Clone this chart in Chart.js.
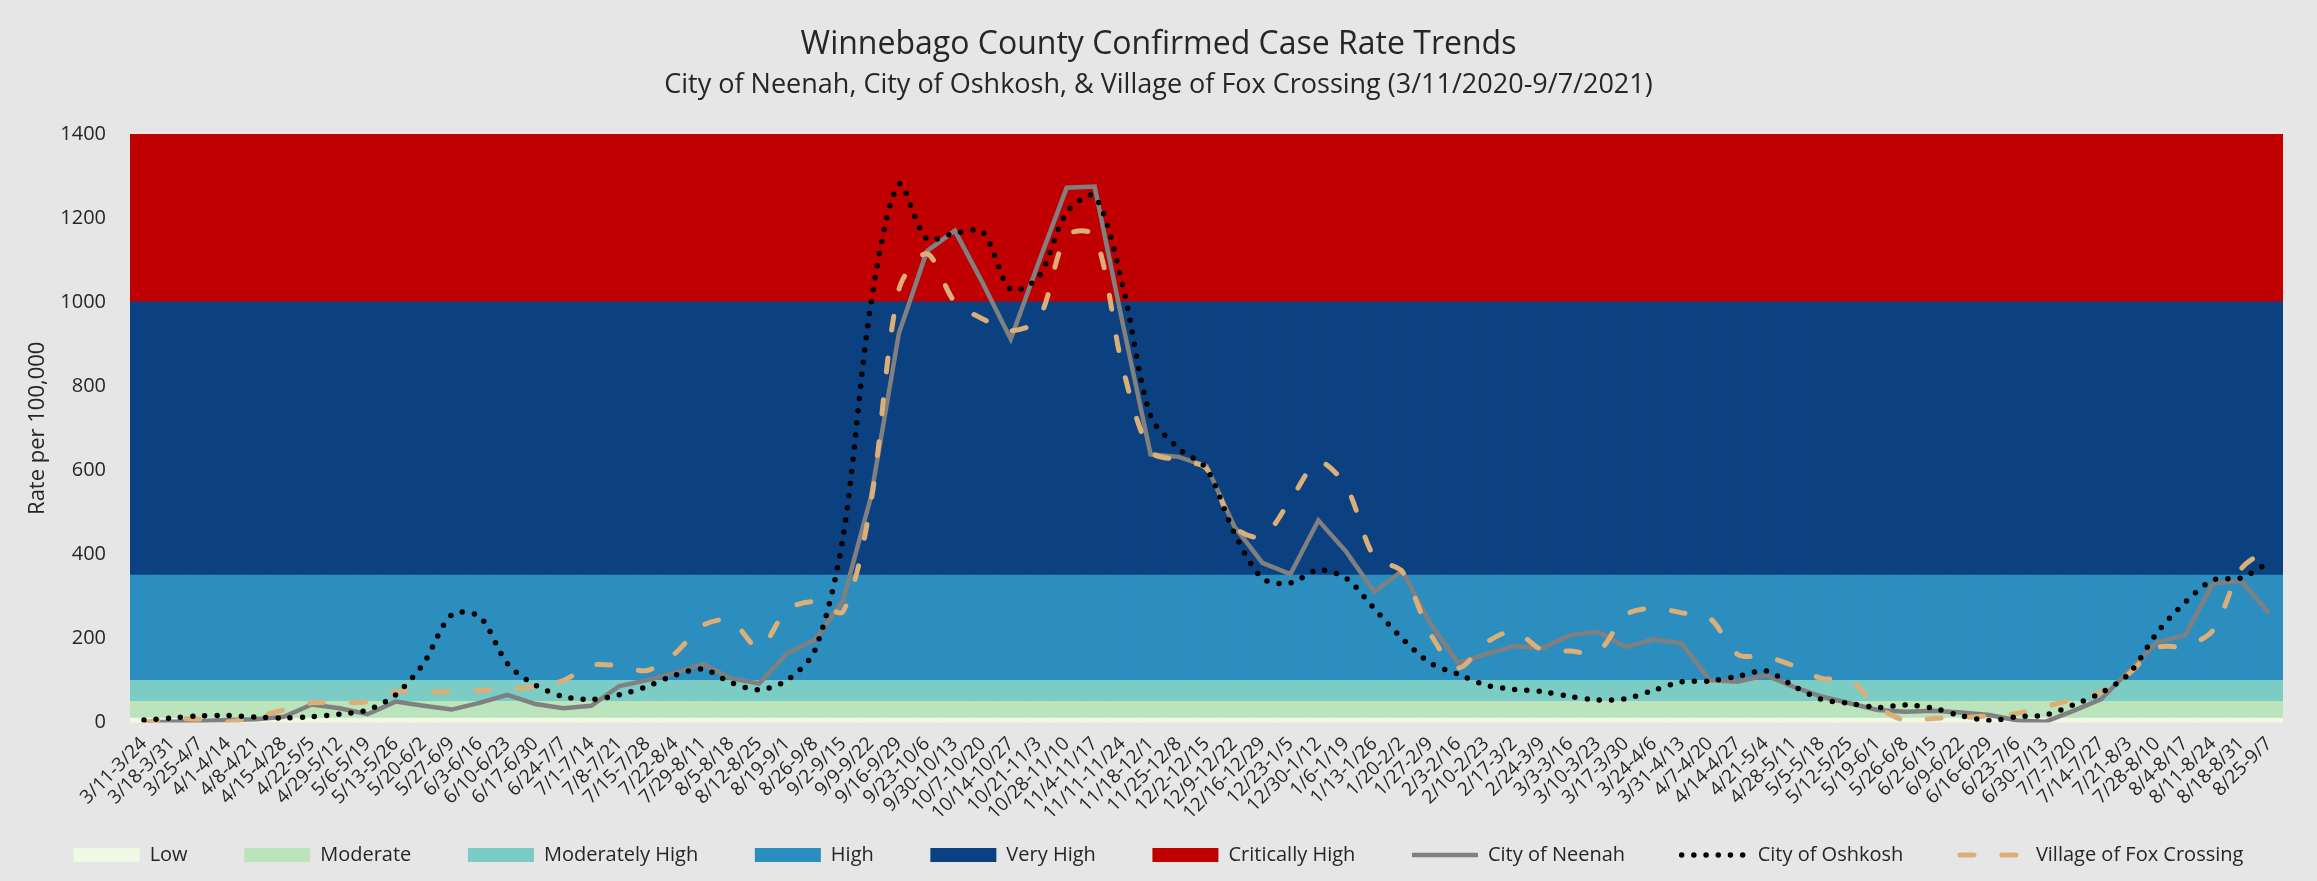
<!DOCTYPE html>
<html>
<head>
<meta charset="utf-8">
<script src="https://cdn.jsdelivr.net/npm/chart.js@4.4.0/dist/chart.umd.min.js"></script>
<style>
  html, body { margin: 0; padding: 0; background: #e7e6e6; }
  canvas { display: block; }
</style>
</head>
<body>
<canvas id="caseChart" width="2317" height="881"></canvas>
<script>
// weekly 14-day windows, 3/11/2020 - 9/7/2021
const weekLabels = [
  '3/11-3/24', '3/18-3/31', '3/25-4/7', '4/1-4/14', '4/8-4/21', '4/15-4/28', '4/22-5/5', '4/29-5/12',
  '5/6-5/19', '5/13-5/26', '5/20-6/2', '5/27-6/9', '6/3-6/16', '6/10-6/23', '6/17-6/30', '6/24-7/7',
  '7/1-7/14', '7/8-7/21', '7/15-7/28', '7/22-8/4', '7/29-8/11', '8/5-8/18', '8/12-8/25', '8/19-9/1',
  '8/26-9/8', '9/2-9/15', '9/9-9/22', '9/16-9/29', '9/23-10/6', '9/30-10/13', '10/7-10/20', '10/14-10/27',
  '10/21-11/3', '10/28-11/10', '11/4-11/17', '11/11-11/24', '11/18-12/1', '11/25-12/8', '12/2-12/15', '12/9-12/22',
  '12/16-12/29', '12/23-1/5', '12/30-1/12', '1/6-1/19', '1/13-1/26', '1/20-2/2', '1/27-2/9', '2/3-2/16',
  '2/10-2/23', '2/17-3/2', '2/24-3/9', '3/3-3/16', '3/10-3/23', '3/17-3/30', '3/24-4/6', '3/31-4/13',
  '4/7-4/20', '4/14-4/27', '4/21-5/4', '4/28-5/11', '5/5-5/18', '5/12-5/25', '5/19-6/1', '5/26-6/8',
  '6/2-6/15', '6/9-6/22', '6/16-6/29', '6/23-7/6', '6/30-7/13', '7/7-7/20', '7/14-7/27', '7/21-8/3',
  '7/28-8/10', '8/4-8/17', '8/11-8/24', '8/18-8/31', '8/25-9/7'
];

const neenahRates = [
  0, 2, 4, 6, 8, 14, 43, 34, 20, 50,
  40, 31, 47, 66, 44, 34, 40, 87, 101, 119,
  139, 105, 93, 165, 197, 290, 537, 926, 1121, 1170,
  1045, 912, 1095, 1272, 1275, 950, 638, 632, 610, 466,
  380, 353, 481, 406, 311, 361, 236, 142, 163, 182,
  177, 208, 216, 180, 198, 188, 101, 97, 113, 85,
  62, 46, 30, 26, 28, 24, 18, 5, 2, 28,
  56, 124, 191, 208, 331, 337, 260
];

const oshkoshRates = [
  6, 11, 16, 17, 13, 11, 14, 20, 30, 66,
  141, 256, 252, 140, 89, 62, 55, 66, 86, 113,
  127, 95, 78, 101, 173, 440, 996, 1280, 1150, 1164,
  1166, 1030, 1060, 1213, 1252, 1040, 730, 652, 604, 450,
  343, 332, 363, 343, 271, 200, 142, 115, 89, 79,
  74, 62, 54, 57, 77, 97, 99, 110, 123, 87,
  55, 46, 36, 42, 34, 16, 5, 14, 18, 42,
  71, 117, 214, 286, 339, 344, 381
];

const foxCrossingRates = [
  0, 9, 8, 2, 14, 30, 47, 47, 50, 73,
  73, 73, 76, 80, 86, 100, 136, 135, 124, 165,
  232, 242, 177, 268, 288, 264, 525, 1030, 1115, 1000,
  960, 932, 960, 1158, 1158, 845, 645, 624, 604, 466,
  442, 529, 620, 561, 394, 359, 212, 130, 190, 217,
  173, 170, 168, 256, 272, 261, 248, 162, 157, 135,
  105, 101, 38, 5, 10, 12, 16, 22, 38, 55,
  73, 117, 178, 182, 220, 365, 415
];

// risk level bands (rate per 100,000)
const bandNames = ['Low', 'Moderate', 'Moderately High', 'High', 'Very High', 'Critically High'];
const bandEdges = [0, 10, 50, 100, 350, 1000, 1400];
const bandColors = ['#f0f8e6', '#bbe4bd', '#7bccc5', '#2c8dbf', '#0b4081', '#c00000'];

const FONT = 'Open Sans';
const TEXT = '#262626';

const paintBackground = {
  id: 'paintBackground',
  beforeDraw(chart) {
    const c = chart.ctx;
    c.save();
    c.fillStyle = '#e7e6e6';
    c.fillRect(0, 0, chart.width, chart.height);
    c.restore();
  }
};

let bandSets = bandNames.map(function (name, k) {
  return {
    type: 'bar',
    label: name,
    data: weekLabels.map(() => [bandEdges[k], bandEdges[k + 1]]),
    backgroundColor: bandColors[k],
    borderWidth: 0,
    barPercentage: 1,
    categoryPercentage: 1,
    grouped: false,
    inflateAmount: 0.6,
    order: 10
  };
});

let lineSets = [
  {
    type: 'line',
    label: 'City of Neenah',
    data: neenahRates,
    borderColor: '#808080',
    backgroundColor: '#808080',
    borderWidth: 4.5,
    pointRadius: 0,
    tension: 0,
    fill: false,
    order: 2
  },
  {
    type: 'line',
    label: 'City of Oshkosh',
    data: oshkoshRates,
    borderColor: '#000000',
    backgroundColor: '#000000',
    borderWidth: 5.5,
    borderDash: [0, 12.2],
    borderCapStyle: 'round',
    pointRadius: 0,
    tension: 0.3,
    fill: false,
    order: 0
  },
  {
    type: 'line',
    label: 'Village of Fox Crossing',
    data: foxCrossingRates,
    borderColor: '#dcae78',
    backgroundColor: '#dcae78',
    borderWidth: 5,
    borderDash: [14, 28],
    borderCapStyle: 'round',
    pointRadius: 0,
    tension: 0.3,
    fill: false,
    order: 1
  }
];

function legendItems(chart) {
  return chart.data.datasets.map(function (ds, i) {
    let isLine = ds.type === 'line';
    return {
      text: ds.label,
      datasetIndex: i,
      fillStyle: ds.backgroundColor,
      strokeStyle: isLine ? ds.borderColor : ds.backgroundColor,
      lineWidth: isLine ? ds.borderWidth : 0,
      lineDash: ds.borderDash || [],
      lineCap: ds.borderCapStyle || 'butt',
      pointStyle: isLine ? 'line' : 'rect',
      fontColor: TEXT,
      hidden: false
    };
  });
}

Chart.defaults.font.family = FONT;

new Chart(document.getElementById('caseChart'), {
  type: 'bar',
  data: {
    labels: weekLabels,
    datasets: bandSets.concat(lineSets)
  },
  options: {
    responsive: false,
    devicePixelRatio: 1,
    animation: false,
    events: [],
    layout: { padding: { top: 0, left: 0, right: 0, bottom: 6 } },
    scales: {
      x: {
        offset: true,
        grid: { display: false, drawTicks: false },
        border: { display: false },
        ticks: {
          autoSkip: false,
          maxRotation: 45,
          minRotation: 45,
          padding: 10,
          color: TEXT,
          font: { family: FONT, size: 19 }
        },
        afterFit: function (s) {
          s.height = 65.8;
          // long rotated labels run below the axis box, so don't clip them to it
          s._computeLabelArea = function () { return undefined; };
        }
      },
      y: {
        min: 0,
        max: 1400,
        grid: { display: false, drawTicks: false },
        border: { display: false },
        ticks: {
          stepSize: 200,
          padding: 24,
          color: TEXT,
          font: { family: FONT, size: 20 },
          callback: function (v) { return String(v); }
        },
        title: {
          display: true,
          text: 'Rate per 100,000',
          color: TEXT,
          font: { family: FONT, size: 22 },
          padding: { top: 25, bottom: 0 }
        },
        afterFit: function (s) { s.width = 130; }
      },
      // empty right margin so the legend can use the full width
      rightGap: {
        position: 'right',
        grid: { display: false, drawTicks: false },
        border: { display: false },
        ticks: { display: false },
        afterFit: function (s) { s.width = 34; }
      }
    },
    plugins: {
      title: {
        display: true,
        text: 'Winnebago County Confirmed Case Rate Trends',
        color: TEXT,
        font: { family: FONT, size: 32, weight: 'normal' },
        padding: { top: 26, bottom: 0 }
      },
      subtitle: {
        display: true,
        text: 'City of Neenah, City of Oshkosh, & Village of Fox Crossing (3/11/2020-9/7/2021)',
        color: TEXT,
        font: { family: FONT, size: 27 },
        padding: { top: 5, bottom: 32.1 }
      },
      legend: {
        position: 'bottom',
        labels: {
          usePointStyle: true,
          pointStyleWidth: 66,
          boxHeight: 14,
          padding: 56.6,
          color: TEXT,
          font: { family: FONT, size: 20 },
          generateLabels: legendItems
        }
      },
      tooltip: { enabled: false }
    }
  },
  plugins: [paintBackground]
});
</script>
</body>
</html>
